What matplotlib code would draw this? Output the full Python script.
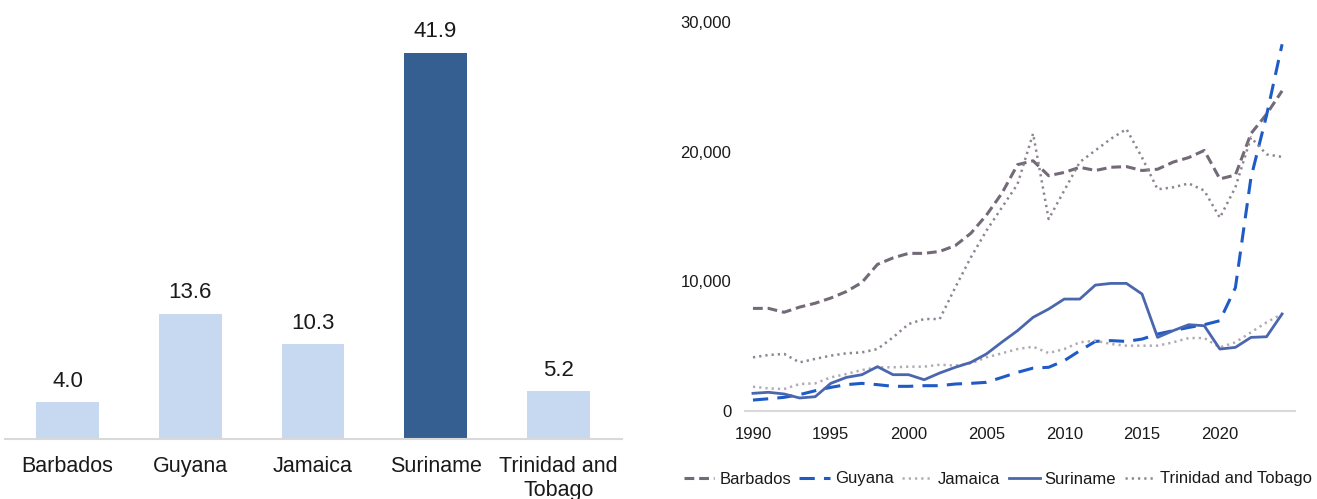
import matplotlib.pyplot as plt
from matplotlib.ticker import FuncFormatter

plt.rcParams["font.family"] = ["Liberation Sans", "DejaVu Sans"]

# share of GDP by country (left panel)
countries = ["Barbados", "Guyana", "Jamaica", "Suriname", "Trinidad and\nTobago"]
shares = [4.0, 13.6, 10.3, 41.9, 5.2]
highlight = "Suriname"

# GDP per capita, 1990-2024 (right panel)
years = list(range(1990, 2025))
barbados = [7900, 7900, 7600, 8000, 8300, 8700, 9200, 9900, 11300, 11800,
            12150, 12150, 12300, 12750, 13700, 15100, 16800, 19000, 19300, 18150,
            18400, 18800, 18550, 18800, 18850, 18550, 18650, 19200, 19550, 20100,
            17900, 18200, 21400, 22900, 24700]
guyana = [820, 920, 1030, 1240, 1540, 1800, 2010, 2110, 2010, 1880,
          1880, 1930, 1930, 2060, 2110, 2190, 2570, 2960, 3290, 3350,
          3860, 4630, 5350, 5410, 5350, 5530, 5920, 6180, 6430, 6640,
          6950, 9500, 18000, 22800, 28300]
jamaica = [1850, 1720, 1670, 2060, 2110, 2570, 2830, 3140, 3350, 3350,
           3400, 3400, 3550, 3480, 3650, 4120, 4430, 4760, 4940, 4450,
           4760, 5280, 5410, 5150, 5020, 5020, 5020, 5280, 5610, 5610,
           4890, 5280, 6050, 6820, 7470]
suriname = [1340, 1420, 1290, 980, 1080, 2110, 2570, 2780, 3400, 2780,
            2780, 2390, 2910, 3350, 3730, 4380, 5300, 6180, 7210, 7850,
            8620, 8620, 9700, 9830, 9830, 9010, 5660, 6180, 6640, 6560,
            4760, 4890, 5660, 5710, 7470]
trinidad = [4120, 4300, 4380, 3730, 4000, 4250, 4430, 4500, 4760, 5660,
            6690, 7080, 7080, 9520, 11840, 13900, 15700, 17500, 21400, 14800,
            17000, 19200, 20100, 21000, 21750, 19550, 17100, 17250, 17550, 17000,
            14900, 17250, 21100, 19800, 19600]

text_color = "#1A1A1A"
axis_color = "#D9D9D9"

fig = plt.figure(figsize=(13.17, 4.99), dpi=100)

# left: bar chart
ax1 = fig.add_axes([0.0038, 0.1202, 0.4685, 0.8317])
bar_colors = ["#365F91" if c.startswith(highlight) else "#C6D9F1" for c in countries]
bars = ax1.bar(range(len(countries)), shares, width=0.51, color=bar_colors)
for bar, value in zip(bars, shares):
    ax1.annotate(
        f"{value:.1f}",
        (bar.get_x() + bar.get_width() / 2, value),
        xytext=(0, 11),
        textcoords="offset points",
        ha="center",
        va="baseline",
        fontsize=16,
        color=text_color,
    )
ax1.set_xlim(-0.51, 4.52)
ax1.set_ylim(0, 45)
ax1.set_xticks(range(len(countries)))
ax1.set_xticklabels(countries, fontsize=15.5, color=text_color)
ax1.tick_params(axis="x", length=0, pad=12)
ax1.set_yticks([])
for side in ["top", "right", "left"]:
    ax1.spines[side].set_visible(False)
ax1.spines["bottom"].set_color(axis_color)
ax1.spines["bottom"].set_linewidth(1.5)

# right: line chart
ax2 = fig.add_axes([0.5657, 0.177, 0.4176, 0.7784])
ax2.plot(years, barbados, color="#736A78", lw=2.2, dashes=(3.2, 1.6),
         label="Barbados")
ax2.plot(years, guyana, color="#1F5BC6", lw=2.2, dashes=(5, 3),
         label="Guyana")
ax2.plot(years, jamaica, color="#B2AAB6", lw=1.8, dashes=(0.9, 1.6),
         label="Jamaica")
ax2.plot(years, suriname, color="#4A66AE", lw=2.0, label="Suriname")
ax2.plot(years, trinidad, color="#8E8492", lw=1.8, dashes=(0.9, 1.6),
         label="Trinidad and Tobago")

ax2.set_xlim(1989.49, 2024.83)
ax2.set_ylim(0, 30000)
ax2.set_xticks(range(1990, 2021, 5))
ax2.set_yticks([0, 10000, 20000, 30000])
ax2.yaxis.set_major_formatter(FuncFormatter(lambda v, _: f"{v:,.0f}"))
ax2.tick_params(axis="x", length=0, pad=11.5, labelsize=12, labelcolor=text_color)
ax2.tick_params(axis="y", length=0, pad=10, labelsize=12, labelcolor=text_color)
for side in ["top", "right", "left"]:
    ax2.spines[side].set_visible(False)
ax2.spines["bottom"].set_color(axis_color)
ax2.spines["bottom"].set_linewidth(1.5)

fig.legend(
    *ax2.get_legend_handles_labels(),
    loc="center",
    bbox_to_anchor=(998 / 1317, 1 - 479 / 499),
    ncol=5,
    frameon=False,
    fontsize=12,
    handlelength=1.85,
    handletextpad=0.3,
    columnspacing=0.5,
    labelcolor=text_color,
)

plt.savefig("out.png", dpi=100)
plt.close()
